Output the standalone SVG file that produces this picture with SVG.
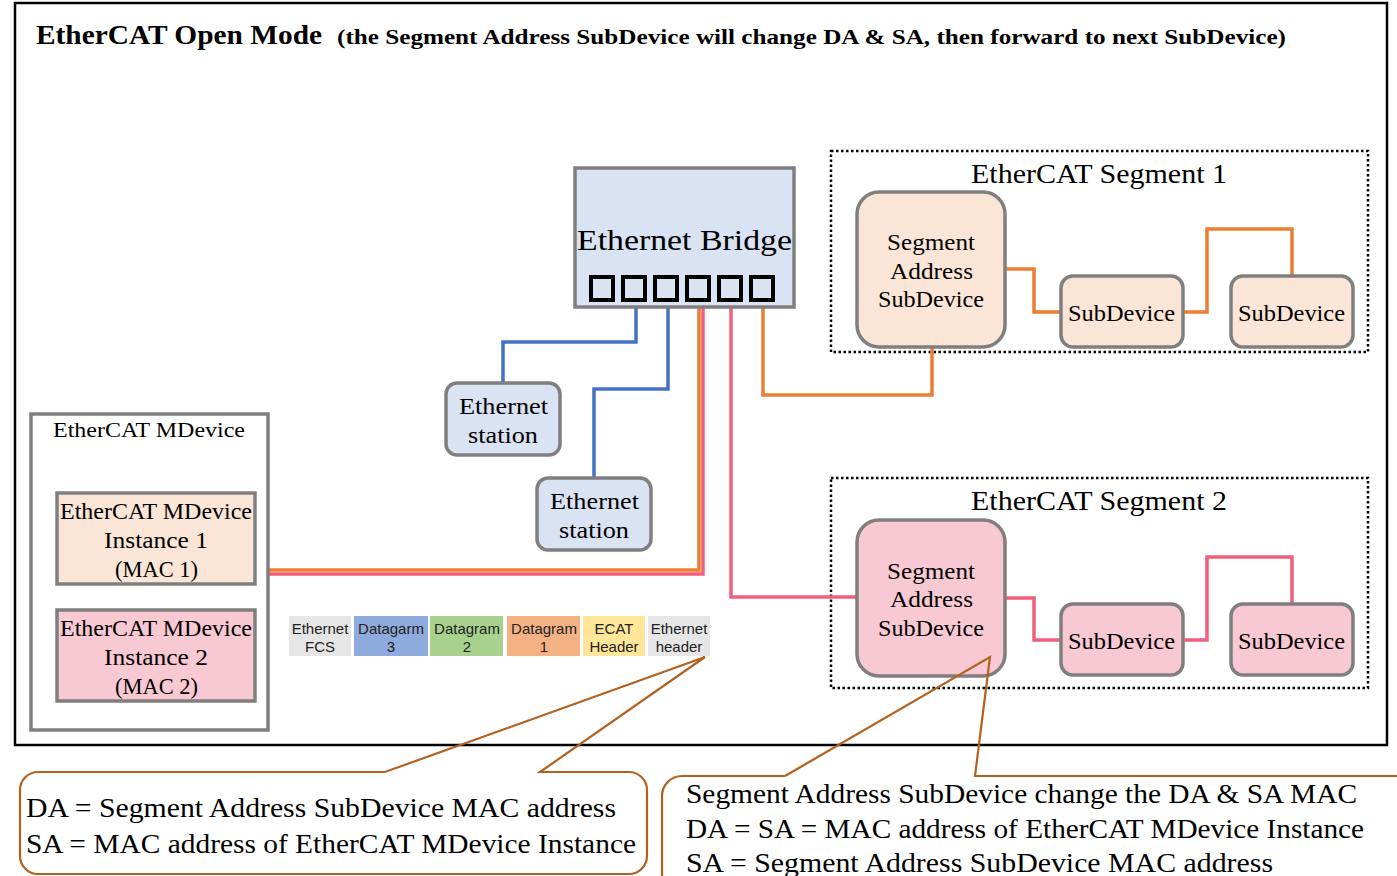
<svg xmlns="http://www.w3.org/2000/svg" width="1397" height="876" viewBox="0 0 1397 876">
<style>
.t{font-family:"Liberation Serif",serif;fill:#000}
.a{font-family:"Liberation Sans",Arial,sans-serif;font-size:15px;fill:#222;text-anchor:middle}
.box{stroke:#7f7f7f;stroke-width:3.5}
.seg{fill:none;stroke:#000;stroke-width:2.5;stroke-dasharray:2.5 2.5}
.bl{fill:none;stroke:#4472c4;stroke-width:3.5}
.or{fill:none;stroke:#ed7d31;stroke-width:3.5}
.pk{fill:none;stroke:#f05f7b;stroke-width:3.5}
.co{fill:none;stroke:#b4611f;stroke-width:2.2}
.port{fill:none;stroke:#000;stroke-width:4}
</style>
<rect x="0" y="0" width="1397" height="876" fill="#fff"/>
<rect x="15" y="3" width="1372" height="742" fill="#fff" stroke="#000" stroke-width="2.5"/>
<text class="t" x="36" y="44" font-size="28" font-weight="bold" textLength="286" lengthAdjust="spacingAndGlyphs">EtherCAT Open Mode</text>
<text class="t" x="337" y="44" font-size="21" font-weight="bold" textLength="949" lengthAdjust="spacingAndGlyphs">(the Segment Address SubDevice will change DA &amp; SA, then forward to next SubDevice)</text>

<g id="segment1">
<rect class="seg" x="831" y="151" width="537" height="201"/>
<text class="t" x="971" y="183" font-size="28" textLength="256" lengthAdjust="spacingAndGlyphs">EtherCAT Segment 1</text>
</g>
<g id="segment2">
<rect class="seg" x="831" y="478" width="537" height="210"/>
<text class="t" x="971" y="510" font-size="28" textLength="256" lengthAdjust="spacingAndGlyphs">EtherCAT Segment 2</text>
</g>

<g id="connectors">
<path class="bl" d="M636,302 V342 H503 V383"/>
<path class="bl" d="M668,302 V389 H594 V478"/>
<path class="pk" d="M703,302 V574 H268" stroke-width="4"/>
<path class="or" d="M699,302 V570 H268" stroke-width="3"/>
<path class="pk" d="M731,302 V597 H857"/>
<path class="or" d="M763,302 V395 H932 V347"/>
<path class="or" d="M1005,269 H1034 V312 H1061"/>
<path class="or" d="M1183,312 H1207 V229 H1292 V276"/>
<path class="pk" d="M1005,598 H1034 V640 H1061"/>
<path class="pk" d="M1183,640 H1207 V557 H1292 V604"/>
</g>

<g id="bridge">
<rect class="box" x="575" y="168" width="219" height="139" fill="#dae3f3" stroke-width="3.5"/>
<text class="t" x="577" y="250" font-size="30" textLength="215" lengthAdjust="spacingAndGlyphs">Ethernet Bridge</text>
<rect class="port" x="591" y="277" width="22" height="23"/>
<rect class="port" x="623" y="277" width="22" height="23"/>
<rect class="port" x="655" y="277" width="22" height="23"/>
<rect class="port" x="687" y="277" width="22" height="23"/>
<rect class="port" x="719" y="277" width="22" height="23"/>
<rect class="port" x="751" y="277" width="22" height="23"/>
</g>

<g id="station1">
<rect class="box" x="446" y="383" width="114" height="72" rx="11" fill="#dae3f3"/>
<text class="t" x="459" y="414" font-size="23" textLength="89" lengthAdjust="spacingAndGlyphs">Ethernet</text>
<text class="t" x="468" y="443" font-size="23" textLength="70" lengthAdjust="spacingAndGlyphs">station</text>
</g>
<g id="station2">
<rect class="box" x="537" y="478" width="114" height="72" rx="11" fill="#dae3f3"/>
<text class="t" x="550" y="509" font-size="23" textLength="89" lengthAdjust="spacingAndGlyphs">Ethernet</text>
<text class="t" x="559" y="538" font-size="23" textLength="70" lengthAdjust="spacingAndGlyphs">station</text>
</g>

<g id="sas1">
<rect class="box" x="857" y="192" width="148" height="155" rx="22" fill="#fbe5d6" stroke-width="4"/>
<text class="t" x="887" y="250" font-size="23" textLength="88" lengthAdjust="spacingAndGlyphs">Segment</text>
<text class="t" x="890" y="279" font-size="23" textLength="83" lengthAdjust="spacingAndGlyphs">Address</text>
<text class="t" x="878" y="307" font-size="23" textLength="106" lengthAdjust="spacingAndGlyphs">SubDevice</text>
</g>
<g id="sd11">
<rect class="box" x="1061" y="276" width="122" height="71" rx="12" fill="#fbe5d6" stroke-width="4"/>
<text class="t" x="1068" y="321" font-size="23" textLength="107" lengthAdjust="spacingAndGlyphs">SubDevice</text>
</g>
<g id="sd12">
<rect class="box" x="1231" y="276" width="122" height="71" rx="12" fill="#fbe5d6" stroke-width="4"/>
<text class="t" x="1238" y="321" font-size="23" textLength="107" lengthAdjust="spacingAndGlyphs">SubDevice</text>
</g>

<g id="sas2">
<rect class="box" x="857" y="520" width="148" height="156" rx="22" fill="#f9c9d3" stroke-width="4"/>
<text class="t" x="887" y="579" font-size="23" textLength="88" lengthAdjust="spacingAndGlyphs">Segment</text>
<text class="t" x="890" y="607" font-size="23" textLength="83" lengthAdjust="spacingAndGlyphs">Address</text>
<text class="t" x="878" y="636" font-size="23" textLength="106" lengthAdjust="spacingAndGlyphs">SubDevice</text>
</g>
<g id="sd21">
<rect class="box" x="1061" y="604" width="122" height="71" rx="12" fill="#f9c9d3" stroke-width="4"/>
<text class="t" x="1068" y="649" font-size="23" textLength="107" lengthAdjust="spacingAndGlyphs">SubDevice</text>
</g>
<g id="sd22">
<rect class="box" x="1231" y="604" width="122" height="71" rx="12" fill="#f9c9d3" stroke-width="4"/>
<text class="t" x="1238" y="649" font-size="23" textLength="107" lengthAdjust="spacingAndGlyphs">SubDevice</text>
</g>

<g id="mdevice">
<rect class="box" x="31" y="414" width="237" height="316" fill="none" stroke-width="3"/>
<text class="t" x="53" y="437" font-size="22" textLength="192" lengthAdjust="spacingAndGlyphs">EtherCAT MDevice</text>
</g>
<g id="instance1">
<rect class="box" x="57" y="493" width="198" height="91" fill="#fbe5d6" stroke-width="3"/>
<text class="t" x="60" y="519" font-size="23" textLength="192" lengthAdjust="spacingAndGlyphs">EtherCAT MDevice</text>
<text class="t" x="104" y="548" font-size="23" textLength="104" lengthAdjust="spacingAndGlyphs">Instance 1</text>
<text class="t" x="115" y="577" font-size="23" textLength="83" lengthAdjust="spacingAndGlyphs">(MAC 1)</text>
</g>
<g id="instance2">
<rect class="box" x="57" y="610" width="198" height="91" fill="#f9c9d3" stroke-width="3"/>
<text class="t" x="60" y="636" font-size="23" textLength="192" lengthAdjust="spacingAndGlyphs">EtherCAT MDevice</text>
<text class="t" x="104" y="665" font-size="23" textLength="104" lengthAdjust="spacingAndGlyphs">Instance 2</text>
<text class="t" x="115" y="694" font-size="23" textLength="83" lengthAdjust="spacingAndGlyphs">(MAC 2)</text>
</g>

<g id="frame">
<rect x="289" y="616" width="62" height="40" fill="#e7e6e6"/>
<rect x="354" y="616" width="74" height="40" fill="#8faadc"/>
<rect x="430" y="616" width="73" height="40" fill="#a9d18e"/>
<rect x="507" y="616" width="73" height="40" fill="#f4b183"/>
<rect x="583" y="616" width="62" height="40" fill="#ffe699"/>
<rect x="648" y="616" width="62" height="40" fill="#e7e6e6"/>
<text class="a" x="320" y="634">Ethernet</text><text class="a" x="320" y="652">FCS</text>
<text class="a" x="391" y="634">Datagarm</text><text class="a" x="391" y="652">3</text>
<text class="a" x="467" y="634">Datagram</text><text class="a" x="467" y="652">2</text>
<text class="a" x="544" y="634">Datagram</text><text class="a" x="544" y="652">1</text>
<text class="a" x="614" y="634">ECAT</text><text class="a" x="614" y="652">Header</text>
<text class="a" x="679" y="634">Ethernet</text><text class="a" x="679" y="652">header</text>
</g>

<g id="callout1">
<path class="co" d="M385,772 H38 A18,18 0 0 0 20,790 V856 A18,18 0 0 0 38,874 H629 A18,18 0 0 0 647,856 V790 A18,18 0 0 0 629,772 H540 L705,657 Z"/>
<text class="t" x="26" y="817" font-size="27" textLength="590" lengthAdjust="spacingAndGlyphs">DA = Segment Address SubDevice MAC address</text>
<text class="t" x="26" y="853" font-size="27" textLength="610" lengthAdjust="spacingAndGlyphs">SA = MAC address of EtherCAT MDevice Instance</text>
</g>
<g id="callout2">
<path class="co" d="M785,776 H682 A20,20 0 0 0 662,796 V900 M785,776 L990,657 L975,776 H1410"/>
<text class="t" x="686" y="803" font-size="27" textLength="671" lengthAdjust="spacingAndGlyphs">Segment Address SubDevice change the DA &amp; SA MAC</text>
<text class="t" x="686" y="838" font-size="27" textLength="678" lengthAdjust="spacingAndGlyphs">DA = SA = MAC address of EtherCAT MDevice Instance</text>
<text class="t" x="686" y="872" font-size="27" textLength="587" lengthAdjust="spacingAndGlyphs">SA = Segment Address SubDevice MAC address</text>
</g>
</svg>
